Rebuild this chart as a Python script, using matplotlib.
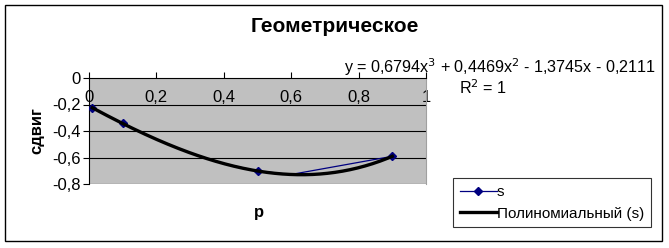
import numpy as np
import matplotlib
matplotlib.use("Agg")
import matplotlib.pyplot as plt
from matplotlib.patches import Rectangle

plt.rcParams['font.family'] = ['Liberation Sans', 'DejaVu Sans']

# data (blue series follows the curve, markers only at 4 points)
p = [0.01, 0.1, 0.2, 0.3, 0.4, 0.5, 0.6, 0.9]
s = [-0.225, -0.343, -0.463, -0.565, -0.646, -0.702, -0.728, -0.591]
marked = [0, 1, 5, 7]
y_ticks = [0, -0.2, -0.4, -0.6, -0.8]
x_ticks = [0, 0.2, 0.4, 0.6, 0.8, 1]
title = "Геометрическое"
eq_text = "y = 0,6794x$^3$ + 0,4469x$^2$ - 1,3745x - 0,2111"
r2_text = "R$^2$ = 1"

W, H = 669, 248
fig = plt.figure(figsize=(W / 100, H / 100), dpi=100)
fig.patches.append(Rectangle((5 / W, 1 - 241 / H), 657 / W, 236 / H,
                             transform=fig.transFigure, fill=False,
                             edgecolor="black", lw=1))

ax = fig.add_axes([89 / W, 1 - 184 / H, 337 / W, 106 / H])
ax.set_facecolor("#c0c0c0")
ax.set_xlim(0, 1)
ax.set_ylim(-0.8, 0)

# cubic trendline (polynomial fit of the series)
coef = np.polyfit(p, s, 3)
xs = np.linspace(min(p), max(p), 200)
ax.plot(p, s, color="#000080", lw=0.9, marker="D", ms=4, markevery=marked,
        label="s", zorder=3)
ax.plot(xs, np.polyval(coef, xs), color="black", lw=2.4,
        label="Полиномиальный (s)", zorder=4)

for y in y_ticks[1:]:
    ax.axhline(y, color="black", lw=0.8, zorder=1)

ax.spines["bottom"].set_position(("data", 0))
ax.spines["top"].set_visible(False)
ax.spines["right"].set_color("#a0a0a0")
ax.spines["left"].set_linewidth(0.8)
ax.spines["bottom"].set_linewidth(0.8)

fmt = lambda v: ("%g" % v).replace(".", ",")
ax.set_xticks(x_ticks)
ax.set_xticklabels([fmt(v) for v in x_ticks])
ax.set_yticks(y_ticks)
ax.set_yticklabels([fmt(v) for v in y_ticks])
ax.tick_params(axis="x", direction="in", length=4, pad=9, labelsize=12)
ax.tick_params(axis="y", direction="out", length=4, pad=2, labelsize=12)

fig.text(335 / W, 1 - 27 / H, title, ha="center", va="center",
         fontsize=15, fontweight="bold")
fig.text(500 / W, 1 - 67 / H, eq_text, ha="center", va="center", fontsize=11.6)
fig.text(483 / W, 1 - 88 / H, r2_text, ha="center", va="center", fontsize=11.6)
fig.text(37 / W, 1 - 131 / H, "сдвиг", ha="center", va="center",
         rotation=90, fontsize=12, fontweight="bold")
fig.text(259 / W, 1 - 213 / H, "p", ha="center", va="center",
         fontsize=12, fontweight="bold")

leg = fig.legend(loc="upper left", bbox_to_anchor=(453 / W, 1 - 178 / H),
                 fontsize=11, frameon=True, fancybox=False, handlelength=2.4,
                 handletextpad=0.0, borderaxespad=0, borderpad=0.45,
                 labelspacing=0.5)
leg.get_frame().set_edgecolor("black")
leg.get_frame().set_linewidth(0.8)

fig.savefig("out.png", dpi=100)
